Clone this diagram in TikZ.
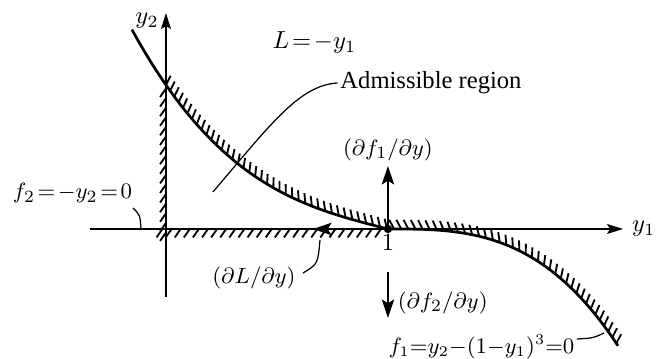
\documentclass[tikz,border=0pt]{standalone}
\usepackage{fontspec}
\setmainfont{Liberation Serif}
\usetikzlibrary{arrows.meta,decorations.markings}

\newcommand{\tightmath}{\medmuskip=0mu\thickmuskip=0mu\relax}
\newcommand{\loosemath}{\medmuskip=1mu\thickmuskip=2mu\relax}

\begin{document}
\begin{tikzpicture}[scale=1.0,
  >={Stealth[length=6.5pt,width=4pt,inset=1.2pt]},
  declare function={fl(\x)=1.25*(1-\x/3.171)*(1-\x/3.171)*(1-\x/3.171)+0.807*(1-\x/3.171);
                    fr(\x)=-1.5*(\x/3.171-1)*(\x/3.171-1)*(\x/3.171-1);},
  axis/.style={line width=0.75pt},
  grad/.style={line width=0.9pt,-{Stealth[length=7.5pt,width=5pt,inset=1.5pt]}},
  curve/.style={line width=1.1pt},
  leader/.style={line width=0.5pt},
  eqn/.style={font=\fontsize{10}{12}\selectfont\loosemath},
  gradlab/.style={font=\fontsize{9.5}{11}\selectfont},
  hatch/.style 2 args={postaction={decorate,decoration={markings,
    mark=between positions 0 and 1 step #2 with {\draw[line width=0.75pt] (0pt,0pt) -- (#1:4.2pt);}}}}]
\useasboundingbox (-2.371,-1.857) rectangle (7.043,3.271);
\coordinate (orig) at (0,0);
\coordinate (one) at (3.171,0);
\coordinate (cross) at (0,2.057);
% axes
\draw[axis,->] (-1.086,0) -- (6.53,0) node[right] (y1lab) {$y_1$};
\draw[axis,->] (0,-0.971) -- (0,3.086);
\node (y2lab) at (-0.271,2.971) {$y_2$};
% constraint f1 = 0
\draw[curve] plot[domain=-0.486:3.171,samples=60] (\x,{fl(\x)})
  -- plot[domain=3.2:6.457,samples=50] (\x,{fr(\x)});
\path[hatch={118}{2.9pt}] plot[domain=0:3.171,samples=50] (\x,{fl(\x)})
  -- plot[domain=3.2:6.457,samples=50] (\x,{fr(\x)});
% hatching on the axes
\path[hatch={145}{3.9pt}] (0,-0.05) -- (cross);
\path[hatch={-125}{3.7pt}] (-0.05,0) -- (one);
% gradients at y1 = 1
\coordinate (f1tip) at (3.171,0.9);
\coordinate (Ltip) at (2.1,0);
\coordinate (f2top) at (3.171,-0.614);
\coordinate (f2tip) at (3.171,-1.271);
\draw[grad] (one) -- (f1tip);
\draw[grad] (one) -- (Ltip);
\draw[grad] (f2top) -- (f2tip);
\fill (one) circle (1.7pt);
\node[below,inner sep=2pt] (onelab) at (one) {$1$};
% labels
\node[eqn] (Llab) at (2.12,2.657) {$L=-y_1$};
\node[anchor=west,inner sep=1pt] (admlab) at (2.45,2.086) {Admissible region};
\coordinate (admfoot) at (0.671,0.529);
\draw[leader] (admfoot) .. controls (1.5,1.5) and (1.9,2.05) .. (admlab.west);
\node[eqn,font=\fontsize{9.5}{11}\selectfont\loosemath] (f2lab) at (-1.336,0.514) {$f_2=-y_2=0$};
\coordinate (f2start) at (-0.471,0.3);
\coordinate (f2end) at (-0.357,0);
\draw[leader] (f2start) .. controls (-0.37,0.2) .. (f2end);
\node[gradlab] (dLlab) at (1.257,-0.7) {$(\partial L/\partial y)$};
\coordinate (dLstart) at (1.957,-0.629);
\coordinate (dLend) at (2.2,-0.157);
\draw[leader] (dLstart) .. controls (2.17,-0.5) .. (dLend);
\node[gradlab] (df1lab) at (3.171,1.129) {$(\partial f_1/\partial y)$};
\node[gradlab,anchor=west,inner sep=1pt] (df2lab) at (3.27,-1.057) {$(\partial f_2/\partial y)$};
\node[font=\fontsize{8.8}{11}\selectfont\tightmath] (f1lab) at (4.507,-1.686) {$f_1=y_2-(1-y_1)^3=0$};
\coordinate (f1start) at (5.871,-1.571);
\coordinate (f1end) at (6.257,-1.486);
\draw[leader] (f1start) .. controls (6.1,-1.56) .. (f1end);
\end{tikzpicture}
\end{document}
